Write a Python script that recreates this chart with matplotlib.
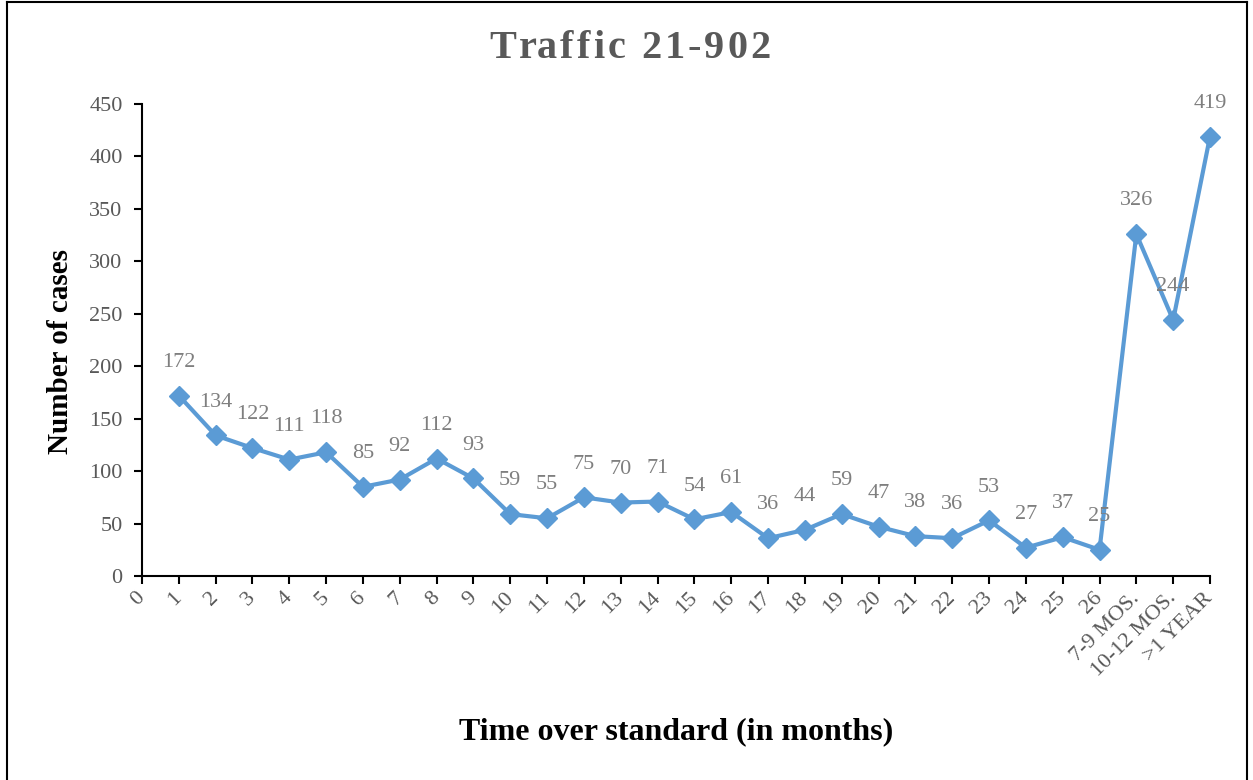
import matplotlib
matplotlib.use("Agg")
import matplotlib.pyplot as plt
from matplotlib.lines import Line2D

categories = ["0"] + [str(i) for i in range(1, 27)] + ["7-9 MOS.", "10-12 MOS.", ">1 YEAR"]
values = [None, 172, 134, 122, 111, 118, 85, 92, 112, 93, 59, 55, 75, 70, 71, 54, 61,
          36, 44, 59, 47, 38, 36, 53, 27, 37, 25, 326, 244, 419]
yticks = [0, 50, 100, 150, 200, 250, 300, 350, 400, 450]
title = 'Traffic 21-902'

plt.rcParams['font.family'] = ['Liberation Serif', 'DejaVu Serif']

W, H = 1253, 780
fig = plt.figure(figsize=(W/100, H/100), dpi=100)
ax = fig.add_axes([142/W, 1-576/H, (1210-142)/W, (576-104)/H])

xs = [i for i, v in enumerate(values) if v is not None]
ys = [v for v in values if v is not None]
color = '#5B9BD5'
ax.plot(xs, ys, color=color, lw=3, marker='D', markersize=10, clip_on=False, zorder=3)
for x, y in zip(xs, ys):
    ax.annotate(str(y), (x, y), xytext=(0, 24), textcoords='offset points',
                ha='center', va='center', fontsize=16, color='#7F7F7F')

ax.set_xlim(0, len(categories) - 1)
ax.set_ylim(0, 450)
ax.set_yticks(yticks)
ax.set_yticklabels([str(t) for t in yticks], fontsize=16, color='#595959')
ax.set_xticks(range(len(categories)))
ax.set_xticklabels(categories, fontsize=16, color='#595959', rotation=45,
                   ha='right', va='center', rotation_mode='anchor')
ax.tick_params(axis='both', direction='out', length=6, width=1.5, color='black')
ax.tick_params(axis='x', pad=8)
ax.tick_params(axis='y', pad=8)
for s in ['top', 'right']:
    ax.spines[s].set_visible(False)
for s in ['left', 'bottom']:
    ax.spines[s].set_linewidth(1.5)
    ax.spines[s].set_color('black')

# letter-spaced title
renderer = fig.canvas.get_renderer()
spacing = 3.0  # px between letters
tfs = 29
def text_width(s):
    t = fig.text(0, 0, s, fontsize=tfs, fontweight='bold')
    w = t.get_window_extent(renderer).width
    t.remove()
    return w
space_w = text_width('a a') - text_width('aa')
def prefix_width(s):
    if not s:
        return 0
    w = text_width(s.strip()) if s.strip() else 0
    return w + space_w * (len(s) - len(s.rstrip()))
full_w = prefix_width(title) + spacing * (len(title) - 1)
x0 = 630 - full_w / 2
for i, ch in enumerate(title):
    px = x0 + prefix_width(title[:i]) + spacing * i
    if ch != ' ':
        fig.text(px / W, 1 - 48 / H, ch, ha='left', va='center', fontsize=tfs,
                 fontweight='bold', color='#595959')

fig.text(60/W, 1-352/H, 'Number of cases', rotation=90, ha='center', va='center',
         fontsize=21, fontweight='bold', color='black')
fig.text(676/W, 1-732/H, 'Time over standard (in months)', ha='center', va='center',
         fontsize=23, fontweight='bold', color='black')

# figure border (left, top, right)
fig.add_artist(Line2D([7/W, 7/W], [0, 1-2/H], transform=fig.transFigure, color='black', lw=1.5))
fig.add_artist(Line2D([7/W, 1247/W], [1-2/H, 1-2/H], transform=fig.transFigure, color='black', lw=1.5))
fig.add_artist(Line2D([1247/W, 1247/W], [0, 1-2/H], transform=fig.transFigure, color='black', lw=1.5))

fig.savefig('out.png', dpi=100)
